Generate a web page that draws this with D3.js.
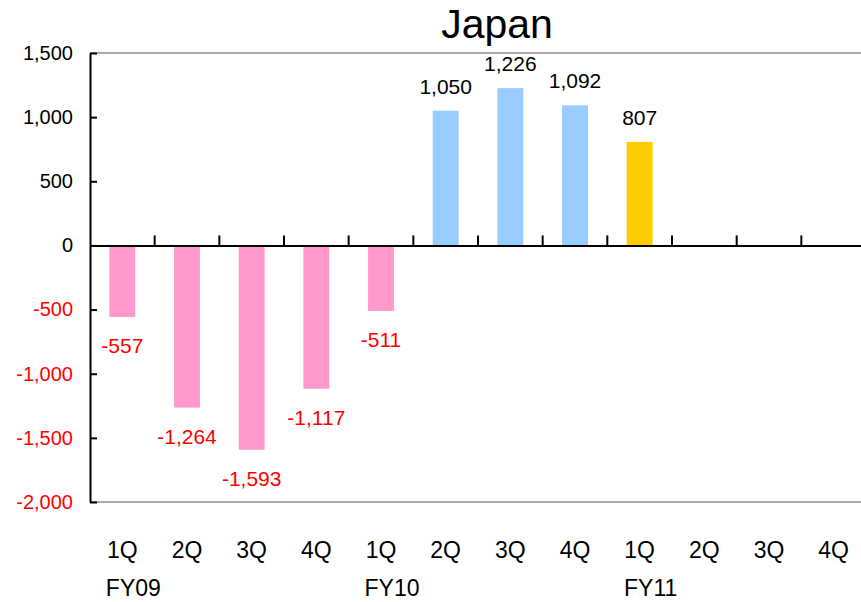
<!DOCTYPE html>
<html>
<head>
<meta charset="utf-8">
<script src="https://cdn.jsdelivr.net/npm/d3@7"></script>
<style>
  html, body { margin: 0; padding: 0; background: #fff; }
  svg text { font-family: "Liberation Sans", Arial, sans-serif; }
</style>
</head>
<body>
<svg id="chart" width="861" height="602"></svg>
<script>
// Quarterly results, Japan segment
const quarters = ["1Q","2Q","3Q","4Q","1Q","2Q","3Q","4Q","1Q","2Q","3Q","4Q"];
const values   = [-557, -1264, -1593, -1117, -511, 1050, 1226, 1092, 807, null, null, null];
const fiscalYears = [
  { label: "FY09", index: 0 },
  { label: "FY10", index: 4 },
  { label: "FY11", index: 8 }
];
const yTicks = [1500, 1000, 500, 0, -500, -1000, -1500, -2000];
const title = "Japan";

const PINK = "#ff99cc", BLUE = "#99ccff", GOLD = "#ffcc00", RED = "#ff0000";

const svg = d3.select("#chart");
const plot = { left: 90, right: 866, top: 53, bottom: 502 };

const x = d3.scaleBand().domain(d3.range(quarters.length)).range([plot.left, plot.right]).paddingInner(0).paddingOuter(0);
const y = d3.scaleLinear().domain([-2000, 1500]).range([plot.bottom, plot.top]);
const comma = d3.format(",");
const fmt = v => comma(v).replace("\u2212", "-");

function barColor(v, i) {
  if (v < 0) return PINK;
  return i >= 8 ? GOLD : BLUE;
}

// plot frame: grey top and bottom edges
svg.append("line").attr("x1", plot.left).attr("x2", plot.right).attr("y1", plot.top).attr("y2", plot.top)
  .attr("stroke", "#8c8c8c").attr("stroke-width", 1.5);
svg.append("line").attr("x1", plot.left).attr("x2", plot.right).attr("y1", plot.bottom).attr("y2", plot.bottom)
  .attr("stroke", "#8c8c8c").attr("stroke-width", 1.5);

// bars
const bw = x.bandwidth() * 0.4;
const data = values.map((v, i) => ({ v, i })).filter(d => d.v !== null);
svg.append("g").selectAll("rect").data(data).join("rect")
  .attr("x", d => x(d.i) + (x.bandwidth() - bw) / 2)
  .attr("width", bw)
  .attr("y", d => y(Math.max(0, d.v)))
  .attr("height", d => Math.abs(y(d.v) - y(0)))
  .attr("fill", d => barColor(d.v, d.i));

// y axis with inward ticks
const yAxis = d3.axisLeft(y).tickValues(yTicks).tickSizeInner(-7).tickSizeOuter(0).tickPadding(17).tickFormat(fmt);
const gy = svg.append("g").attr("transform", `translate(${plot.left},0)`).call(yAxis);
gy.select(".domain").attr("stroke", "#000").attr("stroke-width", 2);
gy.selectAll(".tick line").attr("stroke", "#000").attr("stroke-width", 2);
gy.selectAll(".tick text")
  .attr("font-size", 20)
  .attr("font-family", "Liberation Sans, Arial, sans-serif")
  .attr("fill", d => d < 0 ? RED : "#000");

// zero line with category separators pointing up
const xAxis = d3.axisTop(x).tickValues(d3.range(1, quarters.length)).tickSizeInner(10).tickSizeOuter(0).tickFormat("");
const gx = svg.append("g").attr("transform", `translate(0,${y(0)})`).call(xAxis);
gx.selectAll(".tick").attr("transform", d => `translate(${x(d)},0)`);
gx.select(".domain").attr("stroke", "#000").attr("stroke-width", 2);
gx.selectAll(".tick line").attr("stroke", "#000").attr("stroke-width", 2);

// value labels
svg.append("g").selectAll("text").data(data).join("text")
  .attr("x", d => x(d.i) + x.bandwidth() / 2)
  .attr("y", d => d.v >= 0 ? y(d.v) - 17 : y(d.v) + 36)
  .attr("text-anchor", "middle")
  .attr("font-size", 21)
  .attr("fill", d => d.v < 0 ? RED : "#000")
  .text(d => fmt(d.v));

// quarter labels
svg.append("g").selectAll("text").data(quarters).join("text")
  .attr("x", (d, i) => x(i) + x.bandwidth() / 2)
  .attr("y", 558)
  .attr("text-anchor", "middle")
  .attr("font-size", 23)
  .attr("fill", "#000")
  .text(d => d);

// fiscal year labels
svg.append("g").selectAll("text").data(fiscalYears).join("text")
  .attr("x", d => x(d.index) + x.bandwidth() / 2 + 11)
  .attr("y", 596)
  .attr("text-anchor", "middle")
  .attr("font-size", 23)
  .attr("fill", "#000")
  .text(d => d.label);

// title
svg.append("text")
  .attr("x", 497).attr("y", 38)
  .attr("text-anchor", "middle")
  .attr("font-size", 41)
  .attr("fill", "#000")
  .text(title);
</script>
</body>
</html>
